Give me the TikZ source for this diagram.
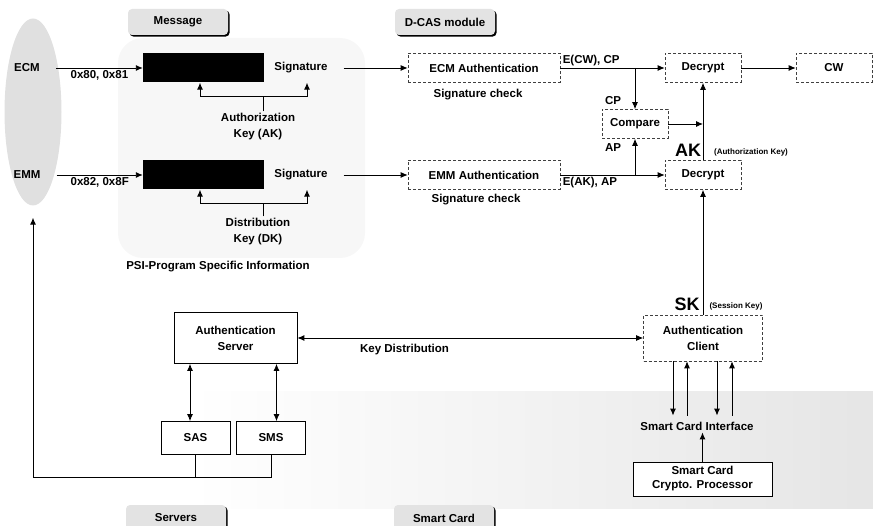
\documentclass[tikz,border=0pt]{standalone}
\usepackage{fontspec}
\setmainfont{Liberation Sans}
\usetikzlibrary{arrows.meta,positioning,shapes.geometric,calc,shadows}

\begin{document}
\begin{tikzpicture}[x=1pt,y=-1pt,>={Latex[length=7pt,width=6pt]},every node/.style={font=\bfseries\fontsize{11.5}{16}\selectfont,align=center,inner sep=2pt},dbox/.style={draw=black!75,densely dashed,line width=0.6pt,fill=white,minimum height=29},sbox/.style={draw,line width=0.7pt,fill=white},blk/.style={fill=black,minimum width=121,minimum height=29},tab/.style={fill=gray!22,rounded corners=4pt,minimum width=100,minimum height=26,drop shadow={shadow xshift=1.6pt,shadow yshift=-1.6pt,fill=black,opacity=1}},small/.style={font=\bfseries\fontsize{8}{10}\selectfont},big/.style={font=\bfseries\fontsize{18}{20}\selectfont},arrow/.style={->,line width=0.9pt},link/.style={line width=0.9pt}]
\useasboundingbox (0,0) rectangle (873,526);
% stippled areas
\fill[gray!6,rounded corners=25] (118,38) rectangle (365,258);
\shade[left color=white,right color=gray!20] (190,392) rectangle (873,508);
\node[ellipse,fill=gray!24,minimum width=57,minimum height=187] (src) at (33,112) {};
% message side
\node (ecm) at (27,68) {ECM};
\node (emm) at (27,175) {EMM};
\node[blk] (blkA) at (203.5,68) {};
\node[blk] (blkB) at (203.5,175) {};
\node[minimum height=29] (sigA) at (301,68) {Signature};
\node[minimum height=29] (sigB) at (301,175) {Signature};
\node (ak) at (258,127) {Authorization\\Key (AK)};
\node (dk) at (258,232) {Distribution\\Key (DK)};
\node (psi) at (218,267) {PSI-Program Specific Information};
\node[tab] (msg) at (178,22) {Message};
\node[tab] (dcas) at (445,22) {D-CAS module};
\node[tab] (srv) at (176,518) {Servers};
\node[tab] (card) at (444,518) {Smart Card};
% D-CAS module
\node[dbox,minimum width=152] (ecmauth) at (484,68) {ECM Authentication};
\node (chkA) at (478,95) {Signature check};
\node[dbox,minimum width=152] (emmauth) at (484,175) {EMM Authentication};
\node (chkB) at (476,200) {Signature check};
\node[dbox,minimum width=76] (decA) at (703,68) {Decrypt};
\node[dbox,minimum width=76] (decB) at (703,175) {Decrypt};
\node[dbox,minimum width=76] (cw) at (834,68) {CW};
\node[dbox,minimum width=66] (cmp) at (635,124) {Compare};
\node (cp) at (613,101) {CP};
\node (ap) at (613,148) {AP};
\node[big] (akbig) at (688,150) {AK};
\node[small] (aktxt) at (751,152) {(Authorization Key)};
\node[big] (skbig) at (687,304) {SK};
\node[small] (sktxt) at (736,306) {(Session Key)};
% servers and smart card
\node[dbox,minimum width=119,minimum height=46] (client) at (703,338) {Authentication\\Client};
\node[sbox,minimum width=123,minimum height=51] (server) at (235.5,338) {Authentication\\Server};
\node[sbox,minimum width=69,minimum height=33] (sas) at (195.5,438) {SAS};
\node[sbox,minimum width=69,minimum height=33] (sms) at (271,438) {SMS};
\node (scif) at (697,426) {Smart Card Interface};
\node[sbox,minimum width=139,minimum height=34,font=\bfseries\fontsize{11.5}{14}\selectfont] (crypto) at (702.5,479) {Smart Card\\Crypto. Processor};
% connectors
\draw[arrow] ([xshift=14]ecm.east) -- node[below]{0x80, 0x81} (blkA.west);
\draw[arrow] ([xshift=14]emm.east) -- node[below]{0x82, 0x8F} (blkB.west);
\coordinate (akj) at (263,96);
\coordinate (dkj) at (263,203);
\draw[link] (ak.north -| akj) -- (akj);
\draw[arrow] (akj) -| ([xshift=-3.5]blkA.south);
\draw[arrow] (akj) -| ([xshift=6]sigA.south);
\draw[link] (dk.north -| dkj) -- (dkj);
\draw[arrow] (dkj) -| ([xshift=-3.5]blkB.south);
\draw[arrow] (dkj) -| ([xshift=6]sigB.south);
\draw[arrow] ([xshift=14]sigA.east) -- (ecmauth.west);
\draw[arrow] ([xshift=14]sigB.east) -- (emmauth.west);
\draw[arrow] (ecmauth.east) -- node[above right,pos=0]{E(CW), CP} (decA.west);
\draw[arrow] (ecmauth.east -| cmp.north) -- (cmp.north);
\draw[arrow] (emmauth.east) -- node[below right,pos=0]{E(AK), AP} (decB.west);
\draw[arrow] (emmauth.east -| cmp.south) -- (cmp.south);
\draw[arrow] (cmp.east) -- (cmp.east -| decB.north);
\draw[arrow] (decB.north) -- (decA.south);
\draw[arrow] (decA.east) -- (cw.west);
\draw[arrow] (client.north) -- (decB.south);
\draw[<->,link] (server.east) -- node[below=4pt,pos=0.31]{Key Distribution} (client.west);
\draw[<->,link] ($(sas.north)+(-5.5,0)$) -- ($(sas.north |- server.south)+(-5.5,0)$);
\draw[<->,link] ($(sms.north)+(5.5,0)$) -- ($(sms.north |- server.south)+(5.5,0)$);
\coordinate (bend) at (33,477);
\draw[link] (sas.south) -- (sas.south |- bend);
\draw[arrow,shorten >=12pt] (sms.south) |- (bend) -- (src.south);
\foreach \dx in {-30,14} \draw[arrow] ($(client.south)+(\dx,0)$) -- ($(client.south |- scif.north)+(\dx,-4)$);
\foreach \dx in {-16,29} \draw[arrow] ($(client.south |- scif.north)+(\dx,-4)$) -- ($(client.south)+(\dx,0)$);
\draw[arrow] (crypto.north) -- (crypto.north |- scif.south);
\end{tikzpicture}
\end{document}
